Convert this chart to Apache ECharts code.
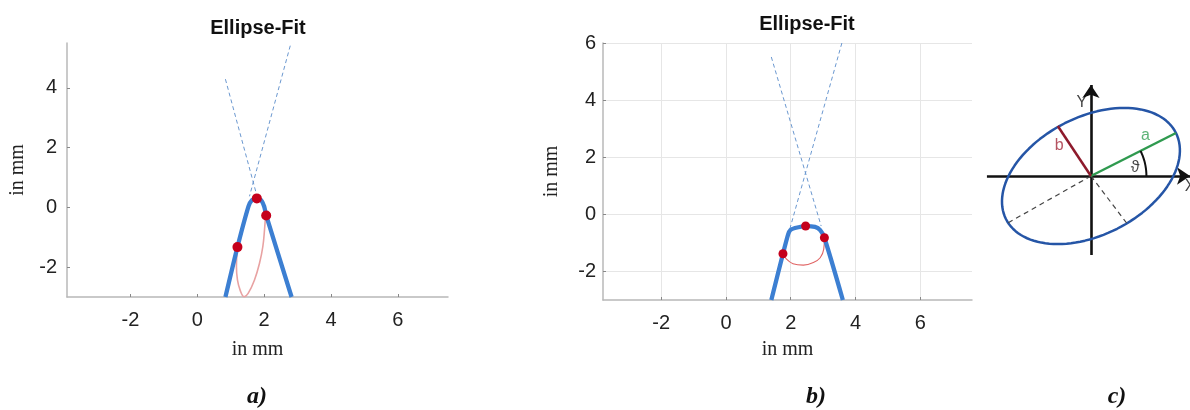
<!DOCTYPE html>
<html><head><meta charset="utf-8">
<script src="https://cdn.jsdelivr.net/npm/echarts@6/dist/echarts.min.js"></script>
<style>html,body{margin:0;padding:0;background:#fff}#c{width:1190px;height:410px}</style>
</head><body><div id="c"></div>
<script>
// ---- tick labels ----
const xTicks = [-2, 0, 2, 4, 6];
const yTicksA = [-2, 0, 2, 4];
const yTicksB = [-2, 0, 2, 4, 6];

// ---- panel a ----
const profileA = [[0.84,-3],[1.20,-1.33],[1.53,0.03],[1.63,0.24],[1.78,0.30],[1.91,0.24],[2.00,0.03],[2.06,-0.27],[2.82,-3]];
const fitArcA = [[1.20,-1.33],[1.17,-1.98],[1.20,-2.43],[1.28,-2.77],[1.40,-2.99],[1.52,-2.88],[1.71,-2.43],[1.86,-1.87],[1.96,-1.31],[2.01,-0.75],[2.04,-0.28]];
const fitPtsA = [[1.20,-1.33],[1.78,0.30],[2.06,-0.27]];
const tangentA1 = [[0.84,4.29],[1.76,0.48]];
const tangentA2 = [[2.78,5.41],[1.56,0.37]];

// ---- panel b ----
const profileB = [[1.40,-3],[1.76,-1.38],[1.92,-0.70],[1.99,-0.55],[2.13,-0.48],[2.46,-0.41],[2.75,-0.44],[2.91,-0.55],[3.04,-0.82],[3.61,-3]];
const fitArcB = [[1.76,-1.38],[1.87,-1.57],[2.07,-1.73],[2.39,-1.78],[2.70,-1.69],[2.91,-1.52],[3.02,-1.22],[3.04,-0.82]];
const fitPtsB = [[1.76,-1.38],[2.46,-0.41],[3.04,-0.82]];
const tangentB1 = [[1.40,5.51],[2.94,-0.41]];
const tangentB2 = [[3.58,6.0],[1.97,-0.52]];

// ---- panel c (diagram, pixel-like units) ----
const ellA = 96, ellB = 59, ellThetaDeg = 26.6, arcR = 56;
const axisXc = [[-105,0],[100,0]];
const axisYc = [[0,-79],[0,91]];
const segA = [[0,0],[85.8,43]];
const segB = [[0,0],[-33.5,50]];
const dashA = [[0,0],[-84,-47]];
const dashB = [[0,0],[36,-47]];
const labelsC = [
  {name:'a', value:[55,40], color:'#35a055'},
  {name:'b', value:[-32,30], color:'#a3283a'},
  {name:'\u03D1', value:[44.7,8], color:'#111'},
  {name:'Y', value:[-9.3,73.3], color:'#111'},
  {name:'X', value:[100,-11], color:'#111'}
];

const th = ellThetaDeg * Math.PI / 180;
const ellipseC = [];
for (let i = 0; i <= 120; i++) {
  const t = 2 * Math.PI * i / 120;
  const u = ellA * Math.cos(t), v = ellB * Math.sin(t);
  ellipseC.push([u * Math.cos(th) - v * Math.sin(th), u * Math.sin(th) + v * Math.cos(th)]);
}
const thetaArc = [];
for (let i = 0; i <= 20; i++) {
  const t = th * i / 20;
  thetaArc.push([arcR * Math.cos(t), arcR * Math.sin(t)]);
}

const SANS = "'Liberation Sans', Arial, Helvetica, sans-serif";
const SERIF = "'Liberation Serif', 'Times New Roman', serif";

function mkX(idx, min, max, gridOn, nameGap) {
  return {
    type: 'value', gridIndex: idx, min: min, max: max,
    name: 'in mm', nameLocation: 'middle', nameGap: nameGap,
    nameTextStyle: {fontFamily: SERIF, fontSize: 20, color: '#222'},
    axisLine: {show: true, onZero: false, lineStyle: {color: '#b8b8b8', width: 1.5}},
    axisTick: {show: true, inside: true, length: 3, customValues: xTicks, lineStyle: {color: '#888'}},
    axisLabel: {customValues: xTicks, fontFamily: SANS, fontSize: 20, color: '#222', margin: 13},
    splitLine: {show: gridOn, lineStyle: {color: '#e6e6e6', width: 1}}
  };
}
function mkY(idx, min, max, ticks, gridOn, nameGap, margin) {
  return {
    type: 'value', gridIndex: idx, min: min, max: max,
    name: 'in mm', nameLocation: 'middle', nameGap: nameGap,
    nameTextStyle: {fontFamily: SERIF, fontSize: 20, color: '#222'},
    axisLine: {show: true, onZero: false, lineStyle: {color: '#b8b8b8', width: 1.5}},
    axisTick: {show: true, inside: true, length: 3, customValues: ticks, lineStyle: {color: '#888'}},
    axisLabel: {customValues: ticks, fontFamily: SANS, fontSize: 20, color: '#222', margin: margin},
    splitLine: {show: gridOn, lineStyle: {color: '#e6e6e6', width: 1}}
  };
}
function lineS(xi, data, color, width, extra) {
  return Object.assign({
    type: 'line', xAxisIndex: xi, yAxisIndex: xi, data: data,
    showSymbol: false, symbol: 'none', silent: true,
    lineStyle: {color: color, width: width}
  }, extra || {});
}

const chart = echarts.init(document.getElementById('c'), null, {renderer: 'canvas'});
chart.setOption({
  animation: false,
  backgroundColor: '#fff',
  grid: [
    {left: 67, top: 43, width: 381, height: 254},
    {left: 603, top: 43, width: 369, height: 257},
    {left: 980, top: 80, width: 212, height: 190}
  ],
  xAxis: [
    mkX(0, -3.9, 7.5, false, 43),
    mkX(1, -3.8, 7.6, true, 40),
    {type: 'value', gridIndex: 2, min: -112, max: 100, show: false}
  ],
  yAxis: [
    mkY(0, -3, 5.5, yTicksA, false, 39, 10),
    mkY(1, -3, 6, yTicksB, true, 41, 7),
    {type: 'value', gridIndex: 2, min: -94, max: 96, show: false}
  ],
  graphic: [
    {type: 'text', x: 258, y: 28, style: {text: 'Ellipse-Fit', font: "bold 20px " + SANS, fill: '#111', align: 'center', verticalAlign: 'middle'}},
    {type: 'text', x: 807, y: 24, style: {text: 'Ellipse-Fit', font: "bold 20px " + SANS, fill: '#111', align: 'center', verticalAlign: 'middle'}},
    {type: 'text', x: 257, y: 397, style: {text: 'a)', font: "italic bold 24px " + SERIF, fill: '#111', align: 'center', verticalAlign: 'middle'}},
    {type: 'text', x: 816, y: 397, style: {text: 'b)', font: "italic bold 24px " + SERIF, fill: '#111', align: 'center', verticalAlign: 'middle'}},
    {type: 'text', x: 1117, y: 397, style: {text: 'c)', font: "italic bold 24px " + SERIF, fill: '#111', align: 'center', verticalAlign: 'middle'}}
  ],
  series: [
    // panel a
    lineS(0, tangentA1, '#6b98d0', 1, {lineStyle: {color: '#6b98d0', width: 1, type: [4, 3]}}),
    lineS(0, tangentA2, '#6b98d0', 1, {lineStyle: {color: '#6b98d0', width: 1, type: [4, 3]}}),
    lineS(0, fitArcA, '#e8a2a2', 1.6, {smooth: 0.4}),
    lineS(0, profileA, '#3c7fd2', 4.3, {smooth: 0.25}),
    {type: 'scatter', xAxisIndex: 0, yAxisIndex: 0, z: 5, data: fitPtsA, symbolSize: 10, itemStyle: {color: '#c5001c', opacity: 1}, silent: true},
    // panel b
    lineS(1, tangentB1, '#6b98d0', 1, {lineStyle: {color: '#6b98d0', width: 1, type: [4, 3]}}),
    lineS(1, tangentB2, '#6b98d0', 1, {lineStyle: {color: '#6b98d0', width: 1, type: [4, 3]}}),
    lineS(1, fitArcB, '#e06464', 1.1, {smooth: 0.4}),
    lineS(1, profileB, '#3c7fd2', 4.3, {smooth: 0.25}),
    {type: 'scatter', xAxisIndex: 1, yAxisIndex: 1, z: 5, data: fitPtsB, symbolSize: 9, itemStyle: {color: '#c5001c', opacity: 1}, silent: true},
    // panel c
    lineS(2, ellipseC, '#2555a6', 2.5, {clip: false}),
    lineS(2, dashA, '#444', 1.2, {clip: false, lineStyle: {color: '#444', width: 1.2, type: [5, 4]}}),
    lineS(2, dashB, '#444', 1.2, {clip: false, lineStyle: {color: '#444', width: 1.2, type: [5, 4]}}),
    lineS(2, segA, '#2f9a4f', 2.5, {clip: false}),
    lineS(2, segB, '#8e1a2c', 2.5, {clip: false}),
    lineS(2, thetaArc, '#111', 2, {clip: false}),
    {type: 'lines', coordinateSystem: 'cartesian2d', xAxisIndex: 2, yAxisIndex: 2, silent: true,
     symbol: ['none', 'arrow'], symbolSize: 13,
     lineStyle: {color: '#111', width: 2.6, opacity: 1, curveness: 0},
     data: [{coords: axisXc}, {coords: axisYc}]},
    {type: 'scatter', xAxisIndex: 2, yAxisIndex: 2, symbolSize: 0, silent: true,
     data: labelsC.map(d => ({name: d.name, value: d.value, label: {color: d.color}})),
     label: {show: true, position: 'inside', formatter: p => p.name, fontFamily: SANS, fontSize: 16}}
  ]
});
</script></body></html>
